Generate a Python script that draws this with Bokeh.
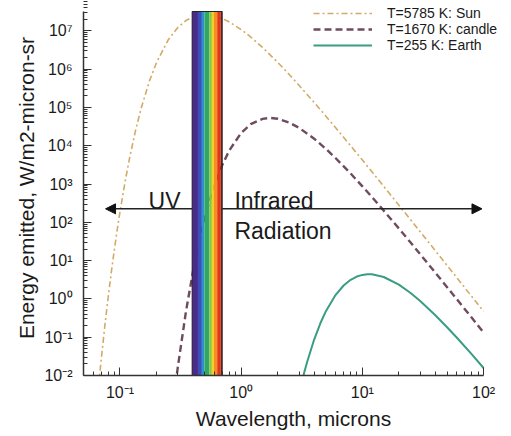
from bokeh.plotting import figure
from bokeh.models import (Range1d, FixedTicker, CustomJSTickFormatter, Legend, LegendItem,
                          Label, Arrow, NormalHead, Title)
from bokeh.embed import file_html
from bokeh.resources import INLINE

# ---------------- data ----------------
sun_wl = [0.065, 0.07, 0.075, 0.08, 0.085, 0.09, 0.095, 0.1, 0.11, 0.12, 0.135, 0.15, 0.175,
          0.2, 0.25, 0.3, 0.35, 0.4, 0.45, 0.5, 0.55, 0.6, 0.7, 0.8, 1.0, 1.2, 1.5, 2, 2.5, 3,
          4, 5, 6, 8, 10, 12, 15, 20, 25, 30, 40, 50, 60, 80, 100]
sun_val = [2.5e-3, 0.026, 0.199, 1.14, 5.26, 20.1, 65.7, 188, 1.12e3, 4.77e3, 2.65e4, 9.87e4,
           4.88e5, 1.48e6, 5.83e6, 1.23e7, 1.86e7, 2.32e7, 2.58e7, 2.65e7, 2.60e7, 2.47e7,
           2.09e7, 1.70e7, 1.08e7, 6.89e6, 3.69e6, 1.51e6, 7.16e5, 3.80e5, 1.35e5, 5.91e4,
           2.98e4, 9.97e3, 4.22e3, 2.08e3, 870, 281, 117, 56.7, 18.1, 7.47, 3.62, 1.15, 0.473]

candle_wl = [0.28, 0.3, 0.35, 0.4, 0.45, 0.5, 0.55, 0.6, 0.7, 0.8, 1.0, 1.2, 1.5, 1.75, 2, 2.5,
             3, 4, 5, 6, 8, 10, 12, 15, 20, 25, 30, 40, 50, 60, 80, 100]
candle_val = [3.0e-3, 0.0165, 0.462, 5.14, 31.3, 125, 372, 889, 3.20e3, 7.64e3, 2.16e4, 3.65e4,
              5.04e4, 5.32e4, 5.08e4, 4.01e4, 2.94e4, 1.53e4, 8.28e3, 4.78e3, 1.88e3, 871, 456,
              202, 69.1, 29.6, 14.7, 4.84, 2.03, 0.992, 0.320, 0.132]

earth_wl = [3, 3.3, 3.5, 4, 4.5, 5, 6, 7, 8, 9, 10, 11, 12, 15, 20, 25, 30, 40, 50, 60, 80, 100]
earth_val = [3.3e-3, 0.0114, 0.0226, 0.087, 0.231, 0.479, 1.26, 2.24, 3.15, 3.83, 4.24, 4.40,
             4.38, 3.73, 2.36, 1.43, 0.882, 0.375, 0.182, 0.0981, 0.0355, 0.0157]

series_labels = ["T=5785 K: Sun", "T=1670 K: candle", "T=255 K: Earth"]

band_left = [0.394, 0.440, 0.474, 0.498, 0.547, 0.573, 0.595, 0.634, 0.675]
band_right = [0.440, 0.474, 0.498, 0.547, 0.573, 0.595, 0.634, 0.675, 0.697]
band_colors = ["#4a2a8c", "#3552b4", "#2f8fd2", "#2fa860", "#8cc63f", "#f2d21e", "#f5901e",
               "#e2361c", "#8c1c12"]

x_ticks = [0.1, 1.0, 10.0, 100.0]
x_tick_labels = ["10⁻¹", "10⁰", "10¹", "10²"]
y_ticks = [0.01, 0.1, 1.0, 10.0, 100.0, 1e3, 1e4, 1e5, 1e6, 1e7]
y_tick_labels = ["10⁻²", "10⁻¹", "10⁰", "10¹", "10²", "10³", "10⁴", "10⁵", "10⁶", "10⁷"]

X_MIN, X_MAX = 0.05, 100.0
Y_MIN, Y_MAX = 0.01, 3.2e7

FONT = "Liberation Sans"
TXT = "#1a1a1a"

p = figure(frame_width=420, frame_height=375, x_axis_type="log", y_axis_type="log",
           x_range=Range1d(X_MIN, 146.0), y_range=Range1d(Y_MIN, 6.2e7),
           output_backend="svg", toolbar_location=None,
           min_border_left=83, min_border_right=0, min_border_top=0, min_border_bottom=0)
p.outline_line_color = None
p.xgrid.visible = False
p.ygrid.visible = False
p.background_fill_color = "white"

# curves
r_sun = p.line(sun_wl, sun_val, line_color="#d2aa66", line_width=1.6, line_dash="6 3 2 3")
r_candle = p.line(candle_wl, candle_val, line_color="#6e4b5e", line_width=2.4, line_dash="7 4")
r_earth = p.line(earth_wl, earth_val, line_color="#3b9c84", line_width=2)

# arrows (UV to the left, infrared to the right of the visible band)
head = dict(size=10, fill_color="#111111", line_color="#111111")
p.add_layout(Arrow(end=NormalHead(**head), x_start=band_left[0], y_start=225, x_end=0.076, y_end=225,
                   line_color="#222222", line_width=1.5))
p.add_layout(Arrow(end=NormalHead(**head), x_start=band_right[-1], y_start=225, x_end=97, y_end=225,
                   line_color="#222222", line_width=1.5))

# visible spectrum band
p.quad(left=band_left, right=band_right, bottom=Y_MIN, top=Y_MAX,
       fill_color=band_colors, line_color=None)
p.quad(left=band_left[0], right=band_right[-1], bottom=Y_MIN, top=Y_MAX,
       fill_color=None, line_color="#222222", line_width=1)

# annotations
p.add_layout(Label(x=0.316, y=371, text="UV", text_align="right", text_baseline="alphabetic",
                   text_font=FONT, text_font_size="23px", text_color=TXT))
p.add_layout(Label(x=0.879, y=371, text="Infrared", text_align="left", text_baseline="alphabetic",
                   text_font=FONT, text_font_size="23px", text_color=TXT))
p.add_layout(Label(x=0.879, y=61, text="Radiation", text_align="left", text_baseline="alphabetic",
                   text_font=FONT, text_font_size="23px", text_color=TXT))

# axes
fmt_code = """
const i = tick_vals.findIndex(t => Math.abs(Math.log10(t) - Math.log10(tick)) < 1e-6);
return i >= 0 ? tick_labels[i] : "";
"""
x_minor = [k * 10.0 ** e for e in range(-2, 2) for k in range(2, 10)]
y_minor = [k * 10.0 ** e for e in range(-2, 8) for k in range(2, 10)]
p.xaxis.ticker = FixedTicker(ticks=x_ticks, minor_ticks=x_minor)
p.yaxis.ticker = FixedTicker(ticks=y_ticks, minor_ticks=y_minor)
p.xaxis.formatter = CustomJSTickFormatter(args=dict(tick_vals=x_ticks, tick_labels=x_tick_labels), code=fmt_code)
p.yaxis.formatter = CustomJSTickFormatter(args=dict(tick_vals=y_ticks, tick_labels=y_tick_labels), code=fmt_code)
p.xaxis.bounds = (X_MIN, X_MAX)
p.yaxis.bounds = (Y_MIN, Y_MAX)

for ax in (p.xaxis[0], p.yaxis[0]):
    ax.axis_line_color = "#333333"
    ax.axis_line_width = 1.5
    ax.major_tick_line_color = "#333333"
    ax.minor_tick_line_color = "#333333"
    ax.major_tick_in = 8
    ax.major_tick_out = 0
    ax.minor_tick_in = 4
    ax.minor_tick_out = 0
    ax.major_label_text_font = FONT
    ax.major_label_text_font_size = "16px"
    ax.major_label_text_color = TXT

p.xaxis.major_label_standoff = 8
p.yaxis.major_label_standoff = 11
p.xaxis.axis_label = "Wavelength, microns"
p.xaxis.axis_label_text_font = FONT
p.xaxis.axis_label_text_font_size = "21px"
p.xaxis.axis_label_text_font_style = "normal"
p.xaxis.axis_label_text_color = TXT
p.xaxis.axis_label_standoff = 3

p.add_layout(Title(text="Energy emitted, W/m2-micron-sr", align="center", offset=10,
                   standoff=8, text_font=FONT, text_font_size="21px",
                   text_font_style="normal", text_color=TXT), "left")

legend = Legend(items=[LegendItem(label=series_labels[0], renderers=[r_sun]),
                       LegendItem(label=series_labels[1], renderers=[r_candle]),
                       LegendItem(label=series_labels[2], renderers=[r_earth])],
                location=(230, 322), padding=0, margin=0, spacing=0,
                glyph_width=59, glyph_height=16, label_height=16, label_standoff=15,
                label_text_font=FONT, label_text_font_size="14px", label_text_color=TXT,
                border_line_alpha=0, background_fill_alpha=0)
p.add_layout(legend)

open("out.html", "w").write(file_html(p, INLINE))
